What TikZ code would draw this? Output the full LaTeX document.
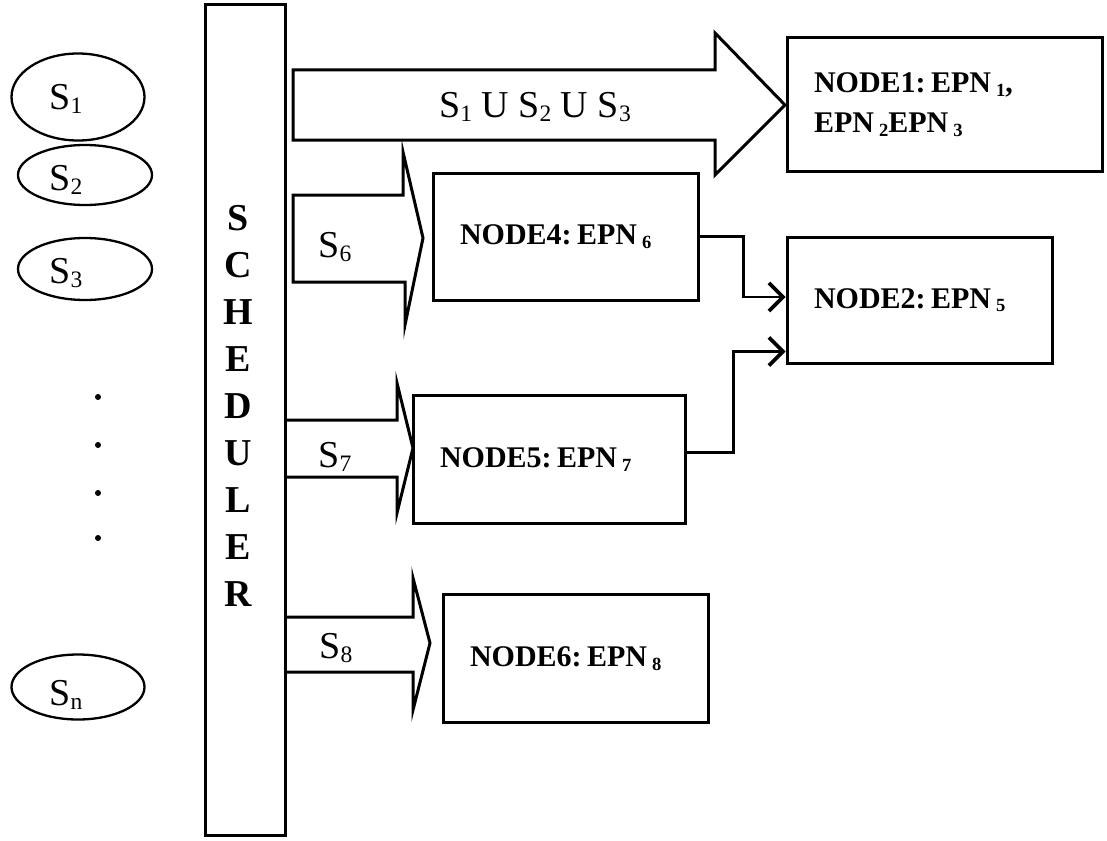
\documentclass[tikz,border=0pt]{standalone}
\usepackage{fontspec}
\setmainfont{Liberation Serif}
\usetikzlibrary{shapes.geometric,arrows.meta,calc}
\newcommand\ssub[1]{\raisebox{-0.12em}{\scalebox{0.62}{#1}}}
\newcommand\csp{\hspace{0.18em}}
\begin{document}
\begin{tikzpicture}[x=1pt,y=-1pt,
  box/.style={draw,line width=3pt,rectangle,inner xsep=27pt,inner ysep=0pt,align=left,
    font=\bfseries\fontsize{30}{40}\selectfont},
  sell/.style={draw,ellipse,line width=2.3pt,inner sep=0pt},
  lab/.style={inner sep=0pt,font=\fontsize{38}{40}\selectfont},
  blk/.style={draw,line width=3pt,line join=miter},
  conn/.style={line width=2.6pt,-{Straight Barb[length=14pt,width=28pt,line width=3.6pt]}},
  dot/.style={circle,fill,inner sep=0pt,minimum size=6pt}]
\useasboundingbox (0,0) rectangle (1107,840);

% sources
\node[sell,minimum width=133pt,minimum height=87pt] (s1) at (78,97) {};
\node[lab] (s1t) at (66,99) {S\ssub{1}};
\node[sell,minimum width=134pt,minimum height=60pt] (s2) at (85,175) {};
\node[lab] (s2t) at (66,180) {S\ssub{2}};
\node[sell,minimum width=134pt,minimum height=62pt] (s3) at (85,269) {};
\node[lab] (s3t) at (66,273) {S\ssub{3}};
\node[sell,minimum width=133pt,minimum height=65pt] (sn) at (78,687) {};
\node[lab] (snt) at (66,695) {S\ssub{n}};
\node[dot] (d1) at (98,397) {};
\node[dot] (d2) at (98,445) {};
\node[dot] (d3) at (98,493) {};
\node[dot] (d4) at (98,538) {};

% scheduler
\node[draw,line width=3pt,minimum width=80pt,minimum height=830pt,inner sep=0pt] (sched) at (245,420) {};
\node[align=center,inner sep=0pt,font=\bfseries\fontsize{38}{47}\selectfont] (schedt) at (238,406)
  {S\\C\\H\\E\\D\\U\\L\\E\\R};

% block arrows
\draw[blk] (293,70) -- (715,70) -- (715,33) -- (785,105) -- (715,175) -- (715,140) -- (293,140) -- cycle;
\node[lab] (a1t) at (535,107) {S\ssub{1} U S\ssub{2} U S\ssub{3}};
\draw[blk] (293,195) -- (403,195) -- (403,152) -- (423,238) -- (405,325) -- (405,282) -- (293,282) -- cycle;
\node[lab] (a6t) at (335,247) {S\ssub{6}};
\draw[blk] (285,420) -- (397,420) -- (397,383) -- (413,448) -- (397,513) -- (397,477) -- (285,477);
\node[lab] (a7t) at (335,457) {S\ssub{7}};
\draw[blk] (285,617) -- (413,617) -- (413,578) -- (430,643) -- (413,710) -- (413,672) -- (285,672);
\node[lab] (a8t) at (336,648) {S\ssub{8}};

% processing nodes
\node[box,text width=261pt,minimum height=133pt] (n1) at (944.5,104.5)
  {NODE1:\csp EPN\,\ssub{1},\\EPN\,\ssub{2}EPN\,\ssub{3}};
\node[box,text width=211pt,minimum height=127pt] (n4) at (565.5,236.5) {NODE4:\csp EPN\,\ssub{6}};
\node[box,text width=211pt,minimum height=126pt] (n2) at (919.5,300) {NODE2:\csp EPN\,\ssub{5}};
\node[box,text width=218pt,minimum height=128pt] (n5) at (549,459.5) {NODE5:\csp EPN\,\ssub{7}};
\node[box,text width=211pt,minimum height=128pt] (n6) at (575.5,658.5) {NODE6:\csp EPN\,\ssub{8}};

% connectors
\draw[conn] (n4.east) -- ++(44,0) |- ($(n2.west)+(0,-3)$);
\draw[conn] ($(n5.east)+(0,-7)$) -- ++(47,0) |- ($(n2.south west)+(0,-13)$);
\end{tikzpicture}
\end{document}
